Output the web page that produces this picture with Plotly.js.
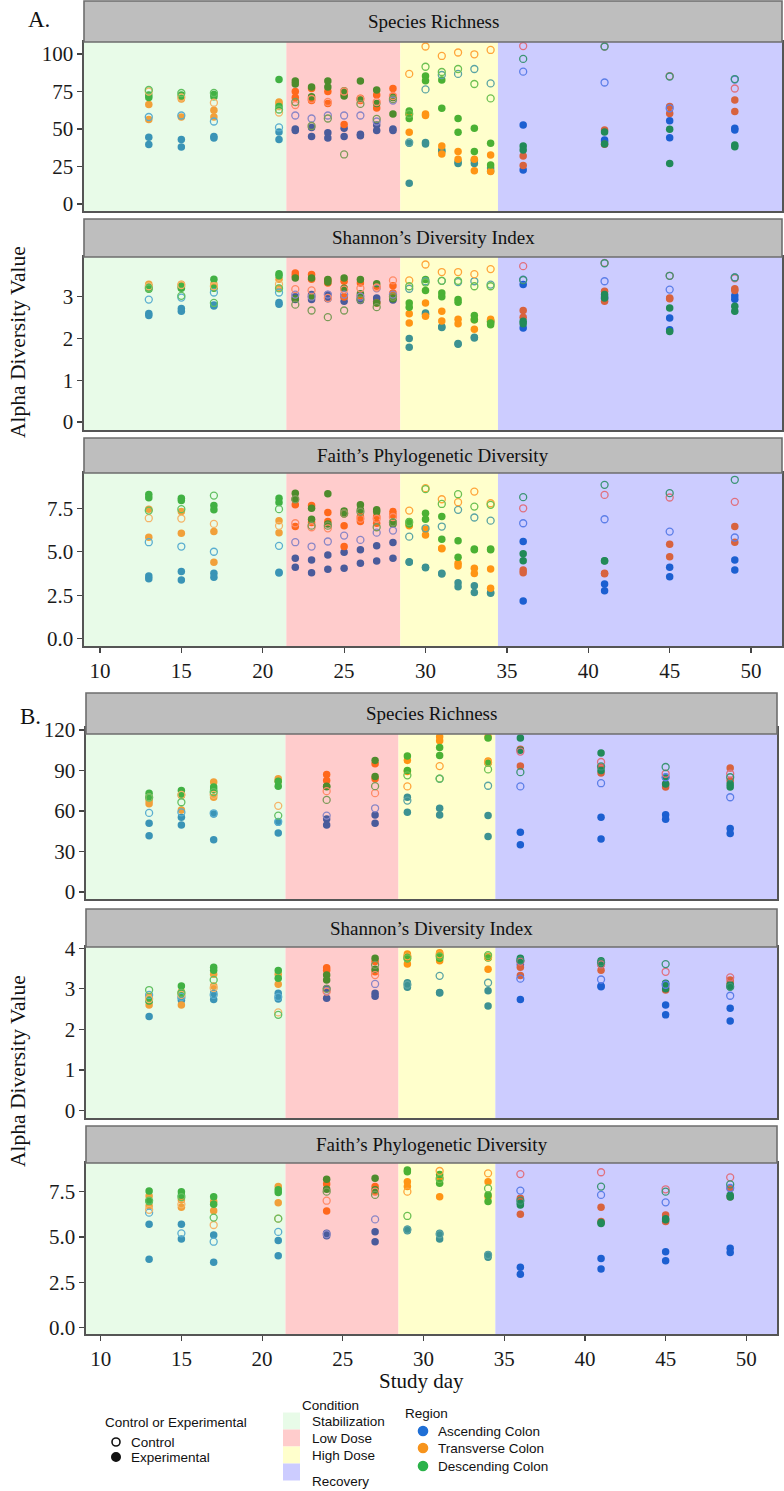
<!DOCTYPE html>
<html>
<head>
<meta charset="utf-8">
<script src="https://cdn.plot.ly/plotly-3.0.1.min.js"></script>
<style>
  body { margin: 0; background: #fff; }
  #chart { width: 784px; height: 1491px; }
</style>
</head>
<body>
<div id="chart"></div>
<script>
// ---- data ----
const daysA = [13, 15, 17, 21, 22, 23, 24, 25, 26, 27, 28, 29, 30, 31, 32, 33, 34, 36, 41, 45, 49];
const daysB = [13, 15, 17, 21, 24, 27, 29, 31, 34, 36, 41, 45, 49];

// A. species richness
const richA_ascE1 = [44.4, 43, 45, 48, 50, 51, 47.5, 50.5, 46.5, 52.7, 50, 40.4, 41, 36, 27, 29, 24, 52.7, 42.7, 55.5, 50.4];
const richA_ascE2 = [39.6, 38, 44, 43, 49, 45, 44, 45, 45.5, 49, 49, 13.8, 40, 35, 28, 27, 22, 22.7, 41.5, 44.2, 49.3];
const richA_ascC = [58, 59, 55, 51, 59, 57, 59, 59, 59, 55, 69, 41, 76.4, 86, 86.7, 90, 80.4, 88.2, 81, 63.8, 83];
const richA_transE1 = [66.4, 70, 62.5, 68, 75, 77, 75, 73, 70.5, 72.7, 77, 59.8, 60, 38.7, 35, 29.8, 32.7, 32, 49.3, 65, 69.3];
const richA_transE2 = [56.4, 58, 58, 67, 71, 69, 67, 53, 69, 64, 71.6, 47.8, 59, 33.3, 29.8, 22.2, 21.6, 25.6, 39.8, 60.4, 61.6];
const richA_transC = [75, 71, 67.5, 61, 66, 70, 68, 75, 70, 68, 72, 86.7, 105, 98.7, 101, 99.8, 102.7, 105.3, 105, 85.3, 77];
const richA_descE1 = [72.7, 72.7, 73, 83, 82, 78, 82, 75.5, 82, 76, 71, 62, 85.3, 82.7, 57, 50.4, 40.4, 38.7, 48, 49.8, 39.3];
const richA_descE2 = [71, 72, 71.5, 65, 80, 71.5, 78, 72, 70, 67, 60, 57, 82.2, 63.8, 47.8, 35, 26, 36, 40, 27, 38.2];
const richA_descC = [76, 74, 74, 63, 68, 52, 57, 33, 66.7, 56.7, 70, 60, 91.5, 88, 90, 80, 70.4, 96.7, 105, 85, 83.3];

// A. Shannon
const shanA_ascE1 = [2.6, 2.72, 2.8, 2.86, 3.0, 3.05, 3.05, 3.0, 2.95, 2.97, 2.97, 2.0, 2.61, 2.26, 1.86, 2.01, 2.4, 3.29, 3.0, 2.49, 3.02];
const shanA_ascE2 = [2.55, 2.65, 2.78, 2.82, 2.93, 2.93, 2.95, 2.89, 2.91, 2.89, 2.92, 1.79, 2.58, 2.28, 1.88, 2.03, 2.42, 2.25, 2.95, 2.21, 2.94];
const shanA_ascC = [2.93, 2.98, 3.1, 3.1, 3.05, 3.0, 3.05, 3.05, 3.0, 3.2, 3.05, 3.19, 3.37, 3.38, 3.35, 3.37, 3.29, 3.41, 3.37, 3.17, 3.46];
const shanA_transE1 = [3.3, 3.3, 3.3, 3.42, 3.57, 3.53, 3.4, 3.37, 3.33, 3.25, 3.26, 2.59, 2.85, 2.65, 2.46, 2.45, 2.46, 2.67, 3.13, 2.97, 3.19];
const shanA_transE2 = [3.2, 3.22, 3.22, 3.2, 3.5, 3.42, 3.33, 2.99, 3.02, 2.85, 3.09, 2.37, 2.53, 2.42, 2.35, 2.22, 2.41, 2.51, 2.89, 2.95, 3.15];
const shanA_transC = [3.25, 3.28, 3.25, 3.3, 3.18, 3.15, 2.97, 3.17, 3.2, 3.22, 3.39, 3.39, 3.77, 3.59, 3.59, 3.54, 3.66, 3.73, 3.81, 3.5, 3.44];
const shanA_descE1 = [3.25, 3.2, 3.42, 3.55, 3.45, 3.45, 3.41, 3.45, 3.41, 3.31, 2.97, 2.85, 3.41, 3.09, 2.93, 2.55, 2.37, 2.41, 3.05, 2.73, 2.77];
const shanA_descE2 = [3.18, 3.25, 3.2, 3.5, 2.95, 3.0, 3.35, 3.2, 3.07, 2.85, 2.95, 2.75, 3.15, 3.0, 2.87, 2.45, 2.33, 2.35, 2.97, 2.17, 2.65];
const shanA_descC = [3.2, 3.02, 2.85, 3.2, 2.81, 2.67, 2.51, 2.67, 2.93, 2.75, 3.0, 3.25, 3.34, 3.38, 3.38, 3.25, 3.25, 3.4, 3.8, 3.5, 3.46];

// A. Faith's PD
const faithA_ascE1 = [3.6, 3.86, 3.76, 3.82, 4.63, 4.53, 4.82, 4.97, 5.11, 5.34, 5.53, 4.43, 4.11, 3.76, 3.22, 3.05, 2.65, 5.59, 3.15, 4.11, 4.53];
const faithA_ascE2 = [3.45, 3.38, 3.53, 3.78, 4.11, 3.8, 3.99, 4.05, 4.34, 4.47, 4.63, 4.4, 4.08, 3.72, 2.99, 2.65, 2.62, 2.17, 2.76, 3.57, 3.95];
const faithA_ascC = [5.55, 5.3, 5.0, 5.34, 5.55, 5.3, 5.59, 5.93, 5.68, 6.1, 6.22, 5.87, 6.35, 6.45, 7.41, 6.97, 6.79, 6.64, 6.87, 6.16, 5.82];
const faithA_transE1 = [7.45, 7.31, 6.16, 6.78, 7.7, 7.66, 7.26, 6.49, 7.03, 7.03, 7.31, 6.55, 6.3, 5.2, 4.34, 4.05, 4.01, 3.95, 3.76, 5.43, 6.45];
const faithA_transE2 = [5.83, 6.07, 4.4, 6.1, 6.45, 6.68, 6.74, 5.3, 6.74, 6.64, 7.12, 6.5, 5.97, 5.18, 4.18, 3.75, 2.9, 3.8, 3.74, 4.72, 5.55];
const faithA_transC = [6.93, 6.91, 6.6, 6.49, 6.64, 6.41, 6.35, 7.2, 6.9, 6.9, 7.0, 7.37, 8.66, 8.02, 7.85, 8.46, 7.79, 7.5, 8.27, 8.12, 7.87];
const faithA_descE1 = [8.3, 8.08, 7.66, 8.08, 8.37, 7.5, 8.33, 7.35, 7.7, 7.41, 6.68, 6.74, 7.22, 7.03, 5.64, 5.16, 5.16, 4.88, 4.49, null, null];
const faithA_descE2 = [8.1, 7.95, 7.41, 7.83, 8.02, 6.87, 6.6, 7.18, 7.41, 7.3, 6.6, 6.6, 6.87, 5.72, 4.68, 5.12, 5.12, 4.49, 4.47, null, null];
const faithA_descC = [7.37, 7.45, 8.23, 7.45, 8.02, 6.5, 6.5, 7.2, 7.3, 6.41, 6.7, 6.7, 8.6, 7.75, 8.31, 7.6, 7.7, 8.14, 8.85, 8.37, 9.14];

// B. species richness
const richB_ascE1 = [50.9, 55.3, 57.8, 51.6, 54.1, 57.1, 70.2, 62, 56.6, 44.2, 55.3, 57.3, 47.1];
const richB_ascE2 = [41.7, 49.6, 38.7, 43.7, 49.6, 50.9, 59, 57.1, 41.2, 35, 39.2, 53.8, 43.4];
const richB_ascC = [58.6, 59, 58.3, 52, 56.6, 62, 67.7, 83.9, 78.7, 78.2, 80.6, 85, 70.2];
const richB_transE1 = [67.7, 71.5, 81.4, 83.9, 87.1, 95, 97.5, 115, 115, 105.7, 92.6, 80.1, 91.8];
const richB_transE2 = [65.3, 60.8, 70.2, 82.1, 82.6, 83.9, 89.3, 112, 97, 93.3, 88.1, 77.7, 82.6];
const richB_transC = [70, 72, 72, 63.8, 74.7, 73.2, 78.2, 93.3, 96, 104, 96.3, 87.6, 87.6];
const richB_descE1 = [73.2, 75.2, 77.7, 78.4, 78.4, 97.5, 100.7, 107, 114, 114.1, 103, 85.1, 80.1];
const richB_descE2 = [70, 72, 75.7, 82, 78, 85.6, 90, 101.2, 95.5, 105, 90, 80, 77.7];
const richB_descC = [70, 66.5, 74, 56.6, 68.2, 78.4, 86.4, 84, 90.8, 88.8, 93, 92.6, 85];

// B. Shannon
const shanB_ascE1 = [2.32, 2.77, 2.74, 2.89, 3.01, 2.89, 3.15, 2.91, 2.95, 3.6, 3.07, 2.6, 2.52];
const shanB_ascE2 = [2.7, 2.72, 2.9, 2.75, 2.77, 2.82, 3.04, 2.9, 2.58, 2.74, 3.05, 2.36, 2.21];
const shanB_ascC = [2.85, 2.8, 2.85, 2.8, 2.95, 3.12, 3.1, 3.32, 3.15, 3.25, 3.23, 3.1, 2.83];
const shanB_transE1 = [2.82, 2.93, 3.36, 3.36, 3.52, 3.67, 3.86, 3.89, 3.78, 3.53, 3.65, 3.05, 3.22];
const shanB_transE2 = [2.6, 2.6, 3.07, 3.11, 3.46, 3.42, 3.61, 3.69, 3.48, 3.33, 3.46, 2.97, 3.14];
const shanB_transC = [2.75, 2.85, 3.02, 2.42, 2.93, 3.34, 3.8, 3.85, 3.78, 3.67, 3.6, 3.42, 3.28];
const shanB_descE1 = [2.75, 3.07, 3.53, 3.45, 3.34, 3.75, 3.8, 3.79, 3.8, 3.75, 3.69, 3.14, 3.1];
const shanB_descE2 = [2.7, 2.9, 3.46, 3.26, 3.22, 3.48, 3.74, 3.75, 3.76, 3.7, 3.6, 3.0, 3.05];
const shanB_descC = [2.97, 2.9, 3.22, 2.36, 3.0, 3.59, 3.75, 3.8, 3.83, 3.7, 3.65, 3.61, 3.05];

// B. Faith's PD
const faithB_ascE1 = [5.7, 5.7, 5.11, 4.8, 5.2, 5.29, 5.42, 5.2, 4.04, 3.33, 3.82, 4.19, 4.38];
const faithB_ascE2 = [3.77, 4.89, 3.6, 3.97, 5.07, 4.74, 5.35, 4.89, 3.88, 2.94, 3.24, 3.69, 4.15];
const faithB_ascC = [6.34, 5.2, 4.74, 5.28, 5.15, 5.97, 5.4, 5.15, 4.0, 7.56, 7.32, 6.91, 7.7];
const faithB_transE1 = [7.26, 7.04, 6.95, 7.78, 7.92, 7.78, 8.05, 8.3, 8.05, 7.13, 6.64, 6.21, 7.68];
const faithB_transE2 = [6.71, 6.64, 6.45, 6.89, 6.43, 7.5, 7.78, 7.22, 7.22, 6.25, 5.85, 5.85, 7.22];
const faithB_transC = [6.5, 6.8, 5.66, 6.01, 7.0, 7.5, 7.5, 8.64, 8.51, 8.47, 8.57, 7.63, 8.29];
const faithB_descE1 = [7.54, 7.5, 7.22, 7.45, 8.18, 8.24, 8.69, 8.45, 7.32, 6.86, 5.75, 6.0, 7.3];
const faithB_descE2 = [6.95, 7.3, 6.8, 7.6, 7.63, 7.6, 8.6, 7.96, 6.95, 6.76, 5.8, 5.95, 7.2];
const faithB_descC = [7.0, 7.2, 6.07, 6.01, 7.5, 7.32, 6.16, 8.2, 7.68, 7.0, 7.78, 7.5, 7.9];

// conditions along the study days
const condNames = ["Stabilization", "Low Dose", "High Dose", "Recovery"];
const condStart = [0, 21.45, 28.45, 34.45];
const condEnd = [21.45, 28.45, 34.45, 60];
const condFill = ["#e8fbe8", "#ffcccc", "#ffffcc", "#ccccff"];

const regionNames = ["Ascending Colon", "Transverse Colon", "Descending Colon"];
const regionKey = ["#1f6fd6", "#f7941d", "#2bb24a"];
const regions = ["asc", "trans", "desc"];

// point colours by region and condition
const expColor = {
  asc: ["#3a94b6", "#4a5b9b", "#3d9292", "#1c5fd1"],
  trans: ["#f1a03a", "#ff681c", "#ff9514", "#d8633e"],
  desc: ["#41b143", "#4e8b2c", "#4bb133", "#218a58"]
};
const ctrlColor = {
  asc: ["#5aaed0", "#8a86c6", "#5aa4a4", "#5c7ee8"],
  trans: ["#f5b468", "#ff8a66", "#ffa53a", "#e0707e"],
  desc: ["#62c062", "#7c9a58", "#6cc052", "#3c9474"]
};

const W = 784, H = 1491;
const px = v => v / W;
const py = v => 1 - v / H;
const serif = "Liberation Serif, Times New Roman, serif";
const sans = "Liberation Sans, Arial, sans-serif";
const xTicks = [10, 15, 20, 25, 30, 35, 40, 45, 50];

function condOf(d) {
  for (let i = 0; i < condStart.length; i++) {
    if (d >= condStart[i] && d < condEnd[i]) return i;
  }
  return condStart.length - 1;
}

// panel geometry in pixels
const panels = [
  { n: 1, days: daysA, xr: [9.02, 51.9], xd: [84, 782], yd: [42, 211], yr: [-4.7, 108], yt: [0, 25, 50, 75, 100], dec: false, strip: [1, 42], title: "Species Richness", showX: false,
    series: [[richA_ascE1, richA_ascE2, richA_ascC], [richA_transE1, richA_transE2, richA_transC], [richA_descE1, richA_descE2, richA_descC]] },
  { n: 2, days: daysA, xr: [9.02, 51.9], xd: [84, 782], yd: [257, 430], yr: [-0.19, 3.95], yt: [0, 1, 2, 3], dec: false, strip: [219, 257], title: "Shannon’s Diversity Index", showX: false,
    series: [[shanA_ascE1, shanA_ascE2, shanA_ascC], [shanA_transE1, shanA_transE2, shanA_transC], [shanA_descE1, shanA_descE2, shanA_descC]] },
  { n: 3, days: daysA, xr: [9.02, 51.9], xd: [84, 782], yd: [473, 646], yr: [-0.42, 9.53], yt: [0, 2.5, 5, 7.5], dec: true, strip: [438, 473], title: "Faith’s Phylogenetic Diversity", showX: true,
    series: [[faithA_ascE1, faithA_ascE2, faithA_ascC], [faithA_transE1, faithA_transE2, faithA_transC], [faithA_descE1, faithA_descE2, faithA_descC]] },
  { n: 4, days: daysB, xr: [9.09, 51.9], xd: [86, 777], yd: [728, 899], yr: [-5.2, 121.5], yt: [0, 30, 60, 90, 120], dec: false, strip: [693, 734], title: "Species Richness", showX: false,
    series: [[richB_ascE1, richB_ascE2, richB_ascC], [richB_transE1, richB_transE2, richB_transC], [richB_descE1, richB_descE2, richB_descC]] },
  { n: 5, days: daysB, xr: [9.09, 51.9], xd: [86, 777], yd: [947, 1118], yr: [-0.18, 4.03], yt: [0, 1, 2, 3, 4], dec: false, strip: [909, 947], title: "Shannon’s Diversity Index", showX: false,
    series: [[shanB_ascE1, shanB_ascE2, shanB_ascC], [shanB_transE1, shanB_transE2, shanB_transC], [shanB_descE1, shanB_descE2, shanB_descC]] },
  { n: 6, days: daysB, xr: [9.09, 51.9], xd: [86, 777], yd: [1163, 1334], yr: [-0.35, 9.08], yt: [0, 2.5, 5, 7.5], dec: true, strip: [1126, 1163], title: "Faith’s Phylogenetic Diversity", showX: true,
    series: [[faithB_ascE1, faithB_ascE2, faithB_ascC], [faithB_transE1, faithB_transE2, faithB_transC], [faithB_descE1, faithB_descE2, faithB_descC]] }
];

const traces = [];
const shapes = [];
const annotations = [];
const layout = {
  width: W, height: H,
  margin: { l: 0, r: 0, t: 0, b: 0 },
  paper_bgcolor: "#ffffff",
  plot_bgcolor: "rgba(0,0,0,0)",
  showlegend: false,
  hovermode: false,
  font: { family: serif, color: "#1a1a1a" }
};

panels.forEach(p => {
  const xa = p.n === 1 ? "x" : "x" + p.n;
  const ya = p.n === 1 ? "y" : "y" + p.n;

  layout["xaxis" + (p.n === 1 ? "" : p.n)] = {
    domain: [px(p.xd[0]), px(p.xd[1])],
    range: p.xr,
    anchor: ya,
    tickvals: p.showX ? xTicks : [],
    ticks: p.showX ? "outside" : "",
    ticklen: 5, tickwidth: 1.2, tickcolor: "#444",
    showticklabels: p.showX,
    showline: true, mirror: true, linecolor: "#555", linewidth: 1.6,
    showgrid: false, zeroline: false,
    tickfont: { family: serif, size: 21, color: "#1a1a1a" }
  };
  layout["yaxis" + (p.n === 1 ? "" : p.n)] = {
    domain: [py(p.yd[1]), py(p.yd[0])],
    range: p.yr,
    anchor: xa,
    tickvals: p.yt,
    ticktext: p.yt.map(v => p.dec ? v.toFixed(1) : String(v)),
    ticks: "outside", ticklen: 5, tickwidth: 1.2, tickcolor: "#444",
    showline: true, mirror: true, linecolor: "#555", linewidth: 1.6,
    showgrid: false, zeroline: false,
    tickfont: { family: serif, size: 21, color: "#1a1a1a" }
  };

  // condition bands
  condNames.forEach((c, i) => {
    shapes.push({
      type: "rect", xref: xa, yref: ya + " domain", layer: "below",
      x0: Math.max(condStart[i], p.xr[0]), x1: Math.min(condEnd[i], p.xr[1]),
      y0: 0, y1: 1, fillcolor: condFill[i], line: { width: 0 }
    });
  });

  // facet strip
  shapes.push({
    type: "rect", xref: "paper", yref: "paper", layer: "above",
    x0: px(p.xd[0]), x1: px(p.xd[1]), y0: py(p.strip[1]), y1: py(p.strip[0]),
    fillcolor: "#bebebe", line: { color: "#6e6e6e", width: 1.6 }
  });
  annotations.push({
    xref: "paper", yref: "paper", x: px((p.xd[0] + p.xd[1]) / 2), y: py((p.strip[0] + p.strip[1]) / 2),
    text: p.title, showarrow: false, xanchor: "center", yanchor: "middle",
    font: { family: serif, size: 19, color: "#111" }
  });

  // experimental points
  regions.forEach((r, ri) => {
    const xs = p.days.concat(p.days);
    const ys = p.series[ri][0].concat(p.series[ri][1]);
    traces.push({
      type: "scatter", mode: "markers", xaxis: xa, yaxis: ya,
      x: xs, y: ys,
      marker: { symbol: "circle", size: 7.5, color: xs.map(d => expColor[r][condOf(d)]) }
    });
  });
  // control points
  regions.forEach((r, ri) => {
    traces.push({
      type: "scatter", mode: "markers", xaxis: xa, yaxis: ya,
      x: p.days, y: p.series[ri][2],
      marker: { symbol: "circle-open", size: 7, color: p.days.map(d => ctrlColor[r][condOf(d)]), line: { width: 1.3 } }
    });
  });
});

// section labels and axis titles
annotations.push(
  { xref: "paper", yref: "paper", x: px(26), y: py(19), text: "A.", showarrow: false, xanchor: "left", yanchor: "middle", font: { family: serif, size: 23, color: "#111" } },
  { xref: "paper", yref: "paper", x: px(18), y: py(716), text: "B.", showarrow: false, xanchor: "left", yanchor: "middle", font: { family: serif, size: 23, color: "#111" } },
  { xref: "paper", yref: "paper", x: px(18), y: py(342), text: "Alpha Diversity Value", textangle: -90, showarrow: false, xanchor: "center", yanchor: "middle", font: { family: serif, size: 21.5, color: "#111" } },
  { xref: "paper", yref: "paper", x: px(18), y: py(1071), text: "Alpha Diversity Value", textangle: -90, showarrow: false, xanchor: "center", yanchor: "middle", font: { family: serif, size: 21.5, color: "#111" } },
  { xref: "paper", yref: "paper", x: px(422), y: py(1381), text: "Study day", showarrow: false, xanchor: "center", yanchor: "middle", font: { family: serif, size: 21, color: "#111" } }
);

// ---- legends ----
const legFont = { family: sans, size: 13.5, color: "#111" };
function legText(x, y, t) {
  annotations.push({ xref: "paper", yref: "paper", x: px(x), y: py(y), text: t, showarrow: false, xanchor: "left", yanchor: "middle", font: legFont });
}
function legDot(cx, cy, r, fill, lineColor) {
  shapes.push({
    type: "circle", xref: "paper", yref: "paper",
    x0: px(cx - r), x1: px(cx + r), y0: py(cy + r), y1: py(cy - r),
    fillcolor: fill, line: { color: lineColor, width: 1.6 }
  });
}

legText(103, 1422, "Control or Experimental");
legDot(116, 1442, 4, "#ffffff", "#111");
legText(129, 1442, "Control");
legDot(116, 1457, 4.2, "#111", "#111");
legText(129, 1457, "Experimental");

legText(300, 1405, "Condition");
const condRowY = [1421, 1438, 1455, 1472];
condNames.forEach((c, i) => {
  shapes.push({
    type: "rect", xref: "paper", yref: "paper",
    x0: px(283), x1: px(300), y0: py(condRowY[i] + 8.5), y1: py(condRowY[i] - 8.5),
    fillcolor: condFill[i], line: { width: 0 }
  });
  legText(310, condRowY[i] + (i === 3 ? 9 : 0), c);
});

legText(403, 1413, "Region");
const regionRowY = [1431, 1448, 1466];
regionNames.forEach((rn, i) => {
  legDot(423, regionRowY[i], 4.5, regionKey[i], regionKey[i]);
  legText(436, regionRowY[i], rn);
});

layout.shapes = shapes;
layout.annotations = annotations;

Plotly.newPlot("chart", traces, layout, { staticPlot: true, displayModeBar: false });
</script>
</body>
</html>
